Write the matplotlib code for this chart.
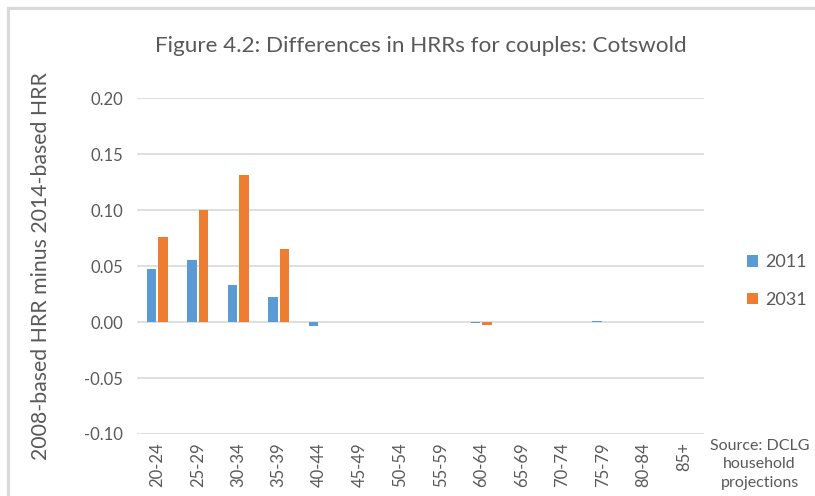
import matplotlib
matplotlib.use("Agg")
import matplotlib.pyplot as plt
import numpy as np
from matplotlib.patches import Rectangle

plt.rcParams["font.family"] = ["Lato", "DejaVu Sans"]

AGE_GROUPS = ["20-24", "25-29", "30-34", "35-39", "40-44", "45-49", "50-54",
              "55-59", "60-64", "65-69", "70-74", "75-79", "80-84", "85+"]
DIFF_2011 = [0.0475, 0.0555, 0.033, 0.0225, -0.004, 0.0, 0.0,
             0.0, -0.001, 0.0, 0.0, 0.001, 0.0, 0.0]
DIFF_2031 = [0.076, 0.100, 0.131, 0.065, 0.0, 0.0, 0.0,
             0.0, -0.0025, 0.0, 0.0, 0.0, 0.0, 0.0]
YTICKS = [-0.10, -0.05, 0.00, 0.05, 0.10, 0.15, 0.20]

BLUE = "#5b9bd5"
ORANGE = "#ed7d31"
TEXT = "#595959"
GRID = "#d9d9d9"

fig = plt.figure(figsize=(8.15, 4.96), dpi=100)
ax = fig.add_axes([137 / 815, 0.125, 567 / 815, 0.6774])

# outer chart frame (only left and top edges fall inside the canvas)
fig.patches.append(Rectangle((8 / 815, -0.05), 1.2, 1 - 8 / 496 + 0.05,
                             transform=fig.transFigure, fill=False,
                             edgecolor="#d9d9d9", linewidth=2.2))

x = np.arange(len(AGE_GROUPS))
w = 0.235
ax.bar(x - w / 2 - 0.025, DIFF_2011, width=w, color=BLUE, label="2011", zorder=3)
ax.bar(x + w / 2 + 0.025, DIFF_2031, width=w, color=ORANGE, label="2031", zorder=3)

ax.set_xlim(-0.5, len(AGE_GROUPS) - 0.5)
ax.set_ylim(-0.10, 0.20)
ax.set_yticks(YTICKS)
ax.set_yticklabels([f"{v:.2f}" for v in YTICKS])
ax.set_xticks(x)
ax.set_xticklabels(AGE_GROUPS, rotation=90)
ax.tick_params(axis="both", length=0, labelsize=12, colors=TEXT)
ax.tick_params(axis="y", pad=10)
ax.tick_params(axis="x", pad=6)
ax.grid(axis="y", color=GRID, linewidth=1.2, zorder=0)
for s in ax.spines.values():
    s.set_visible(False)

ax.set_ylabel("2008-based HRR minus 2014-based HRR", fontsize=15.3,
              color=TEXT, labelpad=24)
ax.set_title("Figure 4.2: Differences in HRRs for couples: Cotswold",
             fontsize=16.2, color=TEXT, pad=33)

ax.legend(loc="center left", bbox_to_anchor=(1.047, 0.455), frameon=False,
          fontsize=13, labelcolor=TEXT, handlelength=0.6, handleheight=0.6,
          handletextpad=0.4, labelspacing=1.2)

fig.text(0.932, 0.064, "Source: DCLG\nhousehold\nprojections", ha="center",
         va="center", fontsize=11.5, color=TEXT, linespacing=1.4)

fig.savefig("out.png", dpi=100)
